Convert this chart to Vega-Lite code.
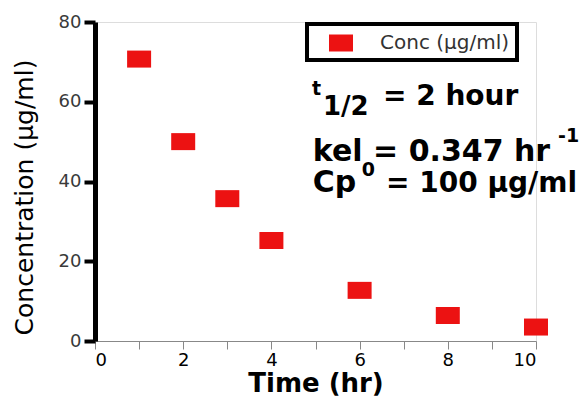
{
  "$schema": "https://vega.github.io/schema/vega-lite/v6.json",
  "width": 441,
  "height": 319,
  "autosize": {"type": "none"},
  "padding": {"left": 95, "top": 22, "right": 49, "bottom": 57},
  "background": "white",
  "config": {
    "font": "DejaVu Sans",
    "legend": {"strokeWidth": 4}
  },
  "datasets": {
    "conc": [
      {"time": 1, "conc": 70.7, "series": "Conc (µg/ml)"},
      {"time": 2, "conc": 50.0, "series": "Conc (µg/ml)"},
      {"time": 3, "conc": 35.7, "series": "Conc (µg/ml)"},
      {"time": 4, "conc": 25.2, "series": "Conc (µg/ml)"},
      {"time": 6, "conc": 12.7, "series": "Conc (µg/ml)"},
      {"time": 8, "conc": 6.4, "series": "Conc (µg/ml)"},
      {"time": 10, "conc": 3.5, "series": "Conc (µg/ml)"}
    ],
    "notes": [
      {"time": 4.92, "conc": 61.7, "label": "t", "role": "small"},
      {"time": 5.17, "conc": 56.7, "label": "1/2", "role": "sub"},
      {"time": 6.53, "conc": 59.2, "label": "= 2 hour", "role": "medium"},
      {"time": 4.94, "conc": 45.1, "label": "kel = 0.347 hr", "role": "big"},
      {"time": 10.5, "conc": 49.9, "label": "-1", "role": "small"},
      {"time": 4.94, "conc": 37.4, "label": "Cp", "role": "big"},
      {"time": 6.05, "conc": 41.3, "label": "0", "role": "small"},
      {"time": 6.6, "conc": 37.4, "label": "= 100 µg/ml", "role": "medium"}
    ]
  },
  "layer": [
    {
      "data": {"name": "conc"},
      "mark": {
        "type": "point",
        "filled": true,
        "shape": "M-1,-0.7083V0.7083H1V-0.7083Z",
        "size": 576,
        "opacity": 1,
        "strokeWidth": 0
      },
      "encoding": {
        "x": {
          "field": "time",
          "type": "quantitative",
          "scale": {"domain": [0, 10], "nice": false},
          "axis": {
            "title": "Time (hr)",
            "values": [0, 1, 2, 3, 4, 5, 6, 7, 8, 9, 10],
            "labelExpr": "datum.value % 2 === 0 ? datum.label : ''",
            "grid": false,
            "tickSize": 8,
            "labelFontSize": 18,
            "titleFontSize": 26,
            "titleFontWeight": "bold",
            "titleColor": "black",
            "titlePadding": 1
          }
        },
        "y": {
          "field": "conc",
          "type": "quantitative",
          "scale": {"domain": [0, 80], "nice": false},
          "axis": {
            "title": "Concentration (µg/ml)",
            "values": [0, 5, 10, 15, 20, 25, 30, 35, 40, 45, 50, 55, 60, 65, 70, 75, 80],
            "labelExpr": "datum.value % 20 === 0 ? datum.label : ''",
            "grid": false,
            "domainColor": "black",
            "domainWidth": 5,
            "tickColor": "black",
            "tickWidth": 4,
            "tickSize": {"condition": {"test": "datum.value % 20 === 0", "value": 11}, "value": 5},
            "labelFont": "DejaVu Sans",
            "labelFontSize": 18,
            "labelColor": "#3a3a3a",
            "labelPadding": 3,
            "labelFlush": false,
            "labelOverlap": false,
            "titleFont": "DejaVu Sans",
            "titleFontSize": 25,
            "titleFontWeight": "normal",
            "titleColor": "black",
            "titlePadding": 21,
            "titleY": 175
          }
        },
        "color": {
          "field": "series",
          "type": "nominal",
          "scale": {"range": ["#ec1212"]},
          "legend": {
            "orient": "none",
            "legendX": 212,
            "legendY": 2,
            "title": null,
            "strokeColor": "black",
            "padding": 7,
            "symbolType": "M-1,-0.7083V0.7083H1V-0.7083Z",
            "symbolSize": 576,
            "symbolStrokeWidth": 0,
            "symbolOpacity": 1,
            "symbolOffset": 15,
            "labelOffset": 27,
            "labelFont": "DejaVu Sans",
            "labelFontSize": 20,
            "labelColor": "#333333"
          }
        }
      }
    },
    {
      "data": {"name": "notes"},
      "transform": [{"filter": "datum.role === 'big'"}],
      "mark": {"type": "text", "align": "left", "baseline": "alphabetic", "font": "DejaVu Sans", "fontWeight": "bold", "fontSize": 30, "color": "black"},
      "encoding": {"x": {"field": "time", "type": "quantitative"}, "y": {"field": "conc", "type": "quantitative"}, "text": {"field": "label"}}
    },
    {
      "data": {"name": "notes"},
      "transform": [{"filter": "datum.role === 'medium'"}],
      "mark": {"type": "text", "align": "left", "baseline": "alphabetic", "font": "DejaVu Sans", "fontWeight": "bold", "fontSize": 28, "color": "black"},
      "encoding": {"x": {"field": "time", "type": "quantitative"}, "y": {"field": "conc", "type": "quantitative"}, "text": {"field": "label"}}
    },
    {
      "data": {"name": "notes"},
      "transform": [{"filter": "datum.role === 'sub'"}],
      "mark": {"type": "text", "align": "left", "baseline": "alphabetic", "font": "DejaVu Sans", "fontWeight": "bold", "fontSize": 26, "color": "black"},
      "encoding": {"x": {"field": "time", "type": "quantitative"}, "y": {"field": "conc", "type": "quantitative"}, "text": {"field": "label"}}
    },
    {
      "data": {"name": "notes"},
      "transform": [{"filter": "datum.role === 'small'"}],
      "mark": {"type": "text", "align": "left", "baseline": "alphabetic", "font": "DejaVu Sans", "fontWeight": "bold", "fontSize": 19, "color": "black"},
      "encoding": {"x": {"field": "time", "type": "quantitative"}, "y": {"field": "conc", "type": "quantitative"}, "text": {"field": "label"}}
    }
  ]
}
